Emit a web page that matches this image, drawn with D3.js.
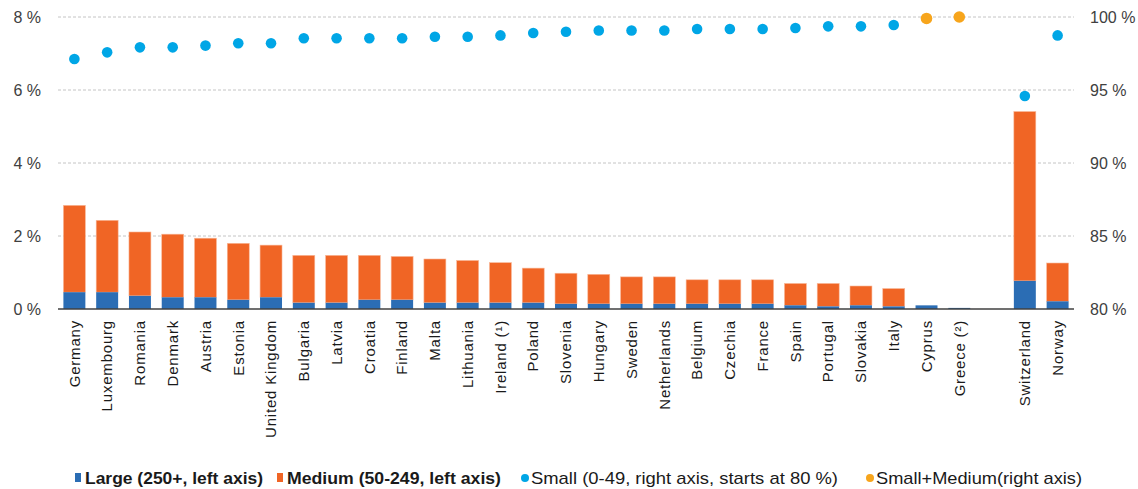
<!DOCTYPE html>
<html>
<head>
<meta charset="utf-8">
<script src="https://cdn.jsdelivr.net/npm/d3@7"></script>
<style>
  body { margin: 0; background: #fff; }
  svg { display: block; font-family: "Liberation Sans", Arial, sans-serif; }
</style>
</head>
<body>
<svg width="1138" height="489"></svg>
<script>
// ================= DATA =================
const countries = ["Germany", "Luxembourg", "Romania", "Denmark", "Austria", "Estonia", "United Kingdom",
  "Bulgaria", "Latvia", "Croatia", "Finland", "Malta", "Lithuania", "Ireland (\u00b9)", "Poland", "Slovenia",
  "Hungary", "Sweden", "Netherlands", "Belgium", "Czechia", "France", "Spain", "Portugal", "Slovakia", "Italy",
  "Cyprus", "Greece (\u00b2)", "Switzerland", "Norway"];
// large enterprises (250+), % , left axis
const large = [0.46, 0.46, 0.36, 0.32, 0.32, 0.25, 0.32, 0.17, 0.17, 0.25, 0.25, 0.17, 0.17, 0.17, 0.17, 0.14,
  0.14, 0.14, 0.14, 0.14, 0.14, 0.14, 0.10, 0.07, 0.10, 0.07, 0.10, 0.03, 0.77, 0.21];
// medium enterprises (50-249), %, left axis
const medium = [2.38, 1.97, 1.75, 1.73, 1.62, 1.55, 1.43, 1.30, 1.30, 1.22, 1.19, 1.20, 1.16, 1.10, 0.95, 0.84,
  0.81, 0.74, 0.74, 0.66, 0.66, 0.66, 0.60, 0.63, 0.53, 0.49, 0, 0, 4.64, 1.05];
// small enterprises (0-49), %, right axis
const small = [97.12, 97.58, 97.92, 97.92, 98.04, 98.2, 98.2, 98.54, 98.54, 98.54, 98.54, 98.65, 98.65, 98.74,
  98.9, 98.99, 99.08, 99.08, 99.08, 99.18, 99.18, 99.18, 99.25, 99.36, 99.36, 99.45, null, null, 94.59, 98.74];
// small + medium, %, right axis
const smallMedium = [null, null, null, null, null, null, null, null, null, null, null, null, null, null, null, null,
  null, null, null, null, null, null, null, null, null, null, 99.9, 100.0, null, null];

const leftTicks = [0, 2, 4, 6, 8];
const rightTicks = [80, 85, 90, 95, 100];
const legendLabels = ["Large (250+, left axis)", "Medium (50-249, left axis)",
  "Small (0-49, right axis, starts at 80 %)", "Small+Medium(right axis)"];

const colLarge = "#2b6db4", colMedium = "#f06525", colSmall = "#00a6e6", colSM = "#f7a51c";

// ================= SCALES =================
const plotL = 58, plotR = 1074, plotT = 17, plotB = 309;
const domain = countries.slice(0, 28).concat(["_gap"]).concat(countries.slice(28));
const xs = d3.scaleBand().domain(domain).range([plotL, plotR]).paddingInner(0.33).paddingOuter(0.165);
const yl = d3.scaleLinear().domain([0, 8]).range([plotB, plotT]);
const yr = d3.scaleLinear().domain([80, 100]).range([plotB, plotT]);

const svg = d3.select("svg");

// gridlines
svg.append("g").selectAll("line")
  .data(leftTicks.filter(d => d > 0))
  .join("line")
  .attr("x1", plotL).attr("x2", plotR)
  .attr("y1", d => yl(d)).attr("y2", d => yl(d))
  .attr("stroke", "#c4c4c4").attr("stroke-dasharray", "3,2");

// ================= BARS =================
const rows = countries.map((c, i) => ({ c: c, large: large[i], medium: medium[i], small: small[i], sm: smallMedium[i] }));

svg.append("g").selectAll("rect")
  .data(rows)
  .join("rect")
  .attr("x", d => xs(d.c)).attr("width", xs.bandwidth())
  .attr("y", d => yl(d.large + d.medium))
  .attr("height", d => yl(d.large) - yl(d.large + d.medium))
  .attr("fill", colMedium).attr("stroke", "#f9b99a").attr("stroke-width", 0.6);

svg.append("g").selectAll("rect")
  .data(rows)
  .join("rect")
  .attr("x", d => xs(d.c)).attr("width", xs.bandwidth())
  .attr("y", d => yl(d.large))
  .attr("height", d => yl(0) - yl(d.large))
  .attr("fill", colLarge);

// ================= DOTS =================
svg.append("g").selectAll("circle")
  .data(rows.filter(d => d.small != null))
  .join("circle")
  .attr("cx", d => xs(d.c) + xs.bandwidth() / 2)
  .attr("cy", d => yr(d.small))
  .attr("r", 5.3).attr("fill", colSmall);

svg.append("g").selectAll("circle")
  .data(rows.filter(d => d.sm != null))
  .join("circle")
  .attr("cx", d => xs(d.c) + xs.bandwidth() / 2)
  .attr("cy", d => yr(d.sm))
  .attr("r", 5.8).attr("fill", colSM);

// ================= AXES =================
svg.append("line")
  .attr("x1", plotL).attr("x2", plotR)
  .attr("y1", plotB).attr("y2", plotB)
  .attr("stroke", "#404040").attr("stroke-width", 1.3);

const gl = svg.append("g")
  .attr("transform", "translate(" + (plotL - 14) + ",0)")
  .call(d3.axisLeft(yl).tickValues(leftTicks).tickSize(0).tickFormat(d => d + " %"));
gl.select(".domain").remove();
gl.selectAll("text").attr("font-size", 16).attr("fill", "#404040").attr("font-family", "Liberation Sans, Arial");

const gr = svg.append("g")
  .attr("transform", "translate(" + 1090 + ",0)")
  .call(d3.axisRight(yr).tickValues(rightTicks).tickSize(0).tickFormat(d => d + " %"));
gr.select(".domain").remove();
gr.selectAll("text").attr("x", 0).attr("font-size", 16).attr("fill", "#404040").attr("font-family", "Liberation Sans, Arial");

const gx = svg.append("g")
  .attr("transform", "translate(0," + plotB + ")")
  .call(d3.axisBottom(xs).tickSize(0).tickFormat(d => d === "_gap" ? "" : d));
gx.select(".domain").remove();
gx.selectAll("text")
  .attr("transform", "rotate(-90)")
  .attr("x", -11).attr("y", 0).attr("dy", "0.35em")
  .attr("text-anchor", "end")
  .attr("font-size", 15).attr("letter-spacing", 0.8)
  .attr("fill", "#1a1a1a").attr("font-family", "Liberation Sans, Arial");

// ================= LEGEND =================
const legendX = [75, 277, 521, 866];
const legendW = [178, 214, 307, 206];
const leg = svg.append("g");
legendLabels.forEach(function(lab, i) {
  const g = leg.append("g").attr("transform", "translate(" + legendX[i] + ",477)");
  if (i < 2) {
    g.append("rect").attr("x", 0).attr("y", -4).attr("width", 6).attr("height", 9)
      .attr("fill", i === 0 ? colLarge : colMedium);
  } else {
    g.append("circle").attr("cx", 4).attr("cy", 1).attr("r", 4).attr("fill", i === 2 ? colSmall : colSM);
  }
  g.append("text").attr("x", 10).attr("y", 7)
    .attr("font-size", 17)
    .attr("font-weight", i < 2 ? "bold" : "normal")
    .attr("textLength", legendW[i]).attr("lengthAdjust", "spacingAndGlyphs")
    .attr("fill", "#1a1a1a")
    .text(lab);
});
</script>
</body>
</html>
